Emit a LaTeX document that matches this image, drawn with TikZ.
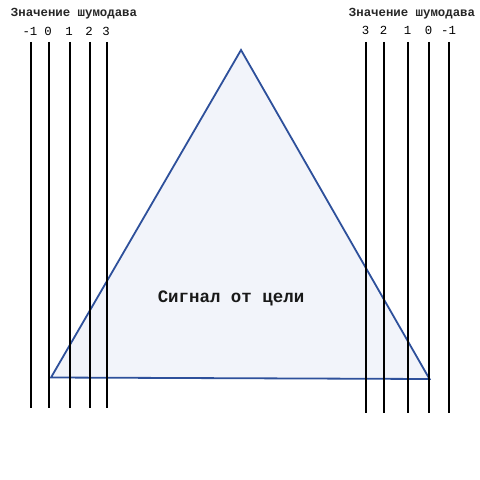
\documentclass[tikz,border=0pt]{standalone}
\usepackage{fontspec}
\setmonofont{Liberation Mono}
\begin{document}
\begin{tikzpicture}[x=1bp,y=-1bp,
  lbl/.style={font=\ttfamily\bfseries\fontsize{12.4}{14}\selectfont, inner sep=0pt, text=black!85},
  num/.style={font=\ttfamily\fontsize{12.4}{14}\selectfont, inner sep=0pt},
  big/.style={font=\ttfamily\bfseries\fontsize{17.5}{20}\selectfont, inner sep=0pt, text=black!90},
  tri/.style={draw={rgb,255:red,46;green,80;blue,155}, fill={rgb,255:red,242;green,244;blue,250}, line width=1.8bp, line join=miter},
  bar/.style={draw=black, line width=1.5bp}]
\useasboundingbox (0,0) rectangle (480,480);
\fill[white] (0,0) rectangle (480,480);
% triangle
\coordinate (A) at (241,50);
\coordinate (B) at (51,377.5);
\coordinate (C) at (429.5,379);
\draw[tri] (A) -- (B) -- (C) -- cycle;
\node[big] (sig) at (231,298) {Сигнал от цели};
% titles
\node[lbl] (tl) at (74,14) {Значение шумодава};
\node[lbl] (tr) at (412,14) {Значение шумодава};
% left bars
\foreach \x/\t/\n in {31/-1/la,49/0/lb,70/1/lc,90/2/ld,107/3/le}{
  \node[num] (n\n) at (\x-1,31) {\t};
  \coordinate (\n t) at (\x,42);
  \coordinate (\n b) at (\x,408);
  \draw[bar] (\n t) -- (\n b);
}
% right bars
\foreach \x/\t/\n in {366/3/ra,384/2/rb,408/1/rc,429/0/rd,449/-1/re}{
  \node[num] (n\n) at (\x-0.5,30.5) {\t};
  \coordinate (\n t) at (\x,42);
  \coordinate (\n b) at (\x,413);
  \draw[bar] (\n t) -- (\n b);
}
\end{tikzpicture}
\end{document}
